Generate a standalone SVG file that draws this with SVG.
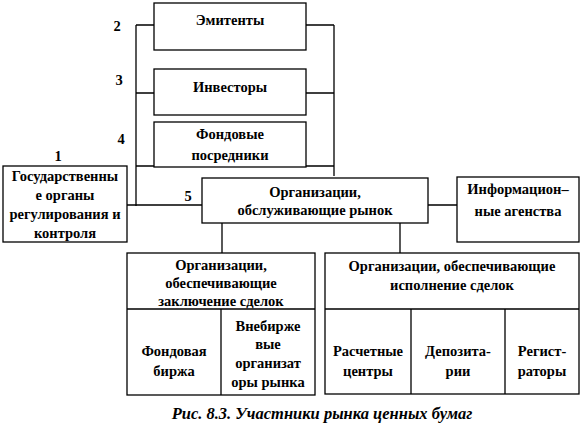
<svg xmlns="http://www.w3.org/2000/svg" width="583" height="432" viewBox="0 0 583 432" font-family="'Liberation Serif', 'DejaVu Serif', serif">
<style>
.b{fill:#fff;stroke:#000;stroke-width:1.3}
.l{fill:none;stroke:#000;stroke-width:1.3}
text{font-family:'Liberation Serif','DejaVu Serif',serif;font-weight:bold;font-size:14.5px;text-anchor:middle;fill:#000}
.cap{font-style:italic;font-size:16.5px}
</style>
<rect width="583" height="432" fill="#fff"/>
<g id="connectors">
<path class="l" d="M136 25V206M136 25H154M136 93H154M136 166H154M306 25H334M306 93H334M306 166H334M334 25V176M127 205H202M428 205H457M222 223V253M400 223V253"/>
</g>
<g id="n-emitenty"><rect class="b" x="154" y="3" width="152" height="47"/><text x="230" y="25">Эмитенты</text></g>
<g id="n-investory"><rect class="b" x="154" y="69" width="152" height="46"/><text x="230" y="92">Инвесторы</text></g>
<g id="n-posredniki"><rect class="b" x="154" y="122" width="152" height="45"/><text x="230" y="139">Фондовые</text><text x="230" y="160">посредники</text></g>
<g id="n-gov"><rect class="b" x="3" y="166" width="124" height="76"/><text x="65" y="181">Государственны</text><text x="65" y="200">е органы</text><text x="65" y="219">регулирования и</text><text x="65" y="238">контроля</text></g>
<g id="n-org"><rect class="b" x="202" y="178" width="226" height="45"/><text x="315" y="197">Организации,</text><text x="315" y="215">обслуживающие рынок</text></g>
<g id="n-info"><rect class="b" x="457" y="177" width="122" height="65"/><text x="518" y="194">Информацион–</text><text x="518" y="216">ные агенства</text></g>
<g id="n-deals"><rect class="b" x="127" y="253" width="188" height="142"/><path class="l" d="M127 309H315M221 309V395"/><text x="221" y="270">Организации,</text><text x="221" y="288">обеспечивающие</text><text x="221" y="306">заключение сделок</text></g>
<g id="n-birzha"><text x="174" y="356">Фондовая</text><text x="174" y="376">биржа</text></g>
<g id="n-vnebirzh"><text x="268" y="331">Внебирже</text><text x="268" y="349">вые</text><text x="268" y="368">организат</text><text x="268" y="387">оры рынка</text></g>
<g id="n-exec"><rect class="b" x="325" y="253" width="254" height="141"/><path class="l" d="M325 309H579M411 309V394M505 309V394"/><text x="452" y="271">Организации, обеспечивающие</text><text x="452" y="290">исполнение сделок</text></g>
<g id="n-rasch"><text x="368" y="356">Расчетные</text><text x="368" y="376">центры</text></g>
<g id="n-depo"><text x="458" y="356">Депозита-</text><text x="458" y="376">рии</text></g>
<g id="n-reg"><text x="542" y="356">Регист-</text><text x="542" y="376">раторы</text></g>
<g id="labels"><text x="58" y="161">1</text><text x="117" y="31">2</text><text x="119" y="85">3</text><text x="121" y="144">4</text><text x="188" y="201">5</text></g>
<text class="cap" x="322" y="419">Рис. 8.3. Участники рынка ценных бумаг</text>
</svg>
